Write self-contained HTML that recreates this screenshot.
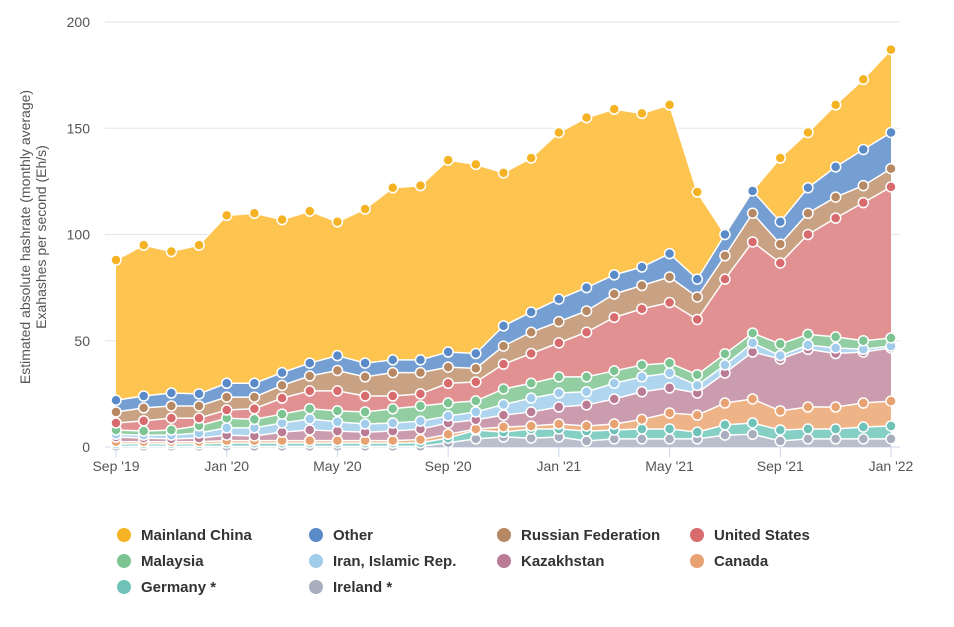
<!DOCTYPE html>
<html><head><meta charset="utf-8"><style>
body{margin:0;background:#fff;font-family:"Liberation Sans",sans-serif;}
svg text{font-family:"Liberation Sans",sans-serif;}
</style></head><body>
<svg id="chart" width="954" height="622" xmlns="http://www.w3.org/2000/svg"></svg>
<script>
const months = ["Sep '19","Oct '19","Nov '19","Dec '19","Jan '20","Feb '20","Mar '20","Apr '20","May '20","Jun '20","Jul '20","Aug '20","Sep '20","Oct '20","Nov '20","Dec '20","Jan '21","Feb '21","Mar '21","Apr '21","May '21","Jun '21","Jul '21","Aug '21","Sep '21","Oct '21","Nov '21","Dec '21","Jan '22"];
const xTickIdx = [0,4,8,12,16,20,24,28];
const xTickLabels = ["Sep '19","Jan '20","May '20","Sep '20","Jan '21","May '21","Sep '21","Jan '22"];
const yTicks = [0,50,100,150,200];
const seriesNames = ["Ireland *","Germany *","Canada","Kazakhstan","Iran, Islamic Rep.","Malaysia","United States","Russian Federation","Other","Mainland China"];
const ireland = [0.3,0.3,0.3,0.3,0.3,0.3,0.3,0.3,0.3,0.3,0.3,0.3,2,3.8,4.7,4.2,4.7,2.8,3.8,3.8,3.8,3.8,5.6,6,2.8,3.8,3.8,3.8,3.8];
const germany = [1.2,1.2,1.2,1.2,1.5,1.5,1.5,1.5,1.5,1.5,1.5,1.7,2.2,4.2,2.3,4.3,3.8,4.7,4.2,4.7,4.7,3.2,4.8,5.3,5.2,4.7,4.7,5.6,6.1];
const canada = [1,1,1,1,1.2,1.2,1.2,1.2,1.2,1.2,1.2,1.5,1.8,0.5,2.4,1.4,2.3,2.4,2.8,4.5,7.5,8,10.3,11.3,9,10.3,10.3,11.3,11.7];
const kazakhstan = [2.2,1.7,1.3,1.7,2.6,2.2,4,5,4.5,4,4.5,4.9,5.3,4.3,5.6,6.6,8,9.9,11.8,13,11.8,10.4,14.1,22.1,24.4,27.2,25.2,24,25];
const iran = [1.3,1.4,1.8,2.4,3.4,3.8,4.3,5.2,4.3,3.8,3.8,3.8,3.3,3.7,5,6.5,6.6,6.2,7.4,7,7,3.6,3.8,4.3,1.6,2,2.6,1.3,0.9];
const malaysia = [2,1.9,2.4,3.4,4.6,4,4.2,4.8,5.2,5.7,6.7,7.1,6.1,5.2,7.3,7,7.6,7,5.8,5.6,4.7,5,5.2,4.6,5.5,5,5.2,4,3.8];
const unitedStates = [3.3,4.8,5.6,3.6,3.8,5,7.5,8.4,9.4,7.5,6,5.7,9.3,8.9,11.7,14,16,21,25.2,26.4,28.5,26,35.2,42.9,38.1,47,55.9,65,71.1];
const russia = [5.2,6.1,5.7,5.7,6.1,5.5,6,7,9.6,9,11,10,7.6,6.4,8.5,10,10,10,11,11,12,10.6,11,13.5,8.9,10,9.9,8,8.6];
const other = [5.5,5.6,6.1,5.7,6.5,6.5,6,6.1,7,6.5,6,6,7.1,7,9.5,9.5,10.6,11,9,8.7,11,8.4,10,10.5,10.5,12,14.2,17,17];
const china = [66,71,66.6,70,79,80,72,71.5,63,72.5,81,82,90.3,89,72,72.5,78.4,80,78,72.3,70,41,null,null,30,26,29.2,33,39];

const fills = ["#b9bfcc","#86cfc5","#eeb387","#cb9cae","#afd5ef","#93ceA3","#e19191","#c9a284","#759fd2","#fdc44f"];
const marks = ["#a8aebd","#6ec2b8","#e8a272","#b97c94","#a2cceb","#7cc491","#d76b6d","#b68964","#5a8bc8","#f5b324"];
const data = [ireland,germany,canada,kazakhstan,iran,malaysia,unitedStates,russia,other,china];
const slugs = ["ireland","germany","canada","kazakhstan","iran","malaysia","united-states","russia","other","china"];

const X0=116,X1=891,Y0=447,Y1=22;
const xs = i => X0 + i*(X1-X0)/(months.length-1);
const ys = v => Y0 - v*(Y0-Y1)/200;
const NS="http://www.w3.org/2000/svg";
const svg=document.getElementById('chart');
function mk(tag,attrs,parent){const e=document.createElementNS(NS,tag);for(const k in attrs)e.setAttribute(k,attrs[k]);(parent||svg).appendChild(e);return e;}

// grid
yTicks.forEach(t=>{
  const g=mk('line',{x1:105,x2:900,y1:ys(t),y2:ys(t),stroke:t===0?'#ccd6eb':'#e6e6e6','stroke-width':1});
  
  
  const tx=mk('text',{x:90,y:ys(t)+5,'text-anchor':'end','font-size':14,fill:'#555'});
  tx.textContent=t;
  
  
});
// stack
let base=months.map(()=>0);
const tops=[];
data.forEach((s,k)=>{
  const top=base.map((b,i)=>b+(s[i]==null?0:s[i]));
  let d='M'+xs(0)+','+ys(top[0]);
  for(let i=1;i<top.length;i++)d+='L'+xs(i)+','+ys(top[i]);
  for(let i=top.length-1;i>=0;i--)d+='L'+xs(i)+','+ys(base[i]);
  d+='Z';
  const a=mk('path',{d:d,fill:fills[k],stroke:'none'});
  
  
  tops.push({top:top,s:s,k:k});
  base=top;
});
tops.forEach(o=>{
  const pts=o.top.map((v,i)=>xs(i)+','+ys(v)).join(' ');
  const l=mk('polyline',{points:pts,fill:'none',stroke:'#fff','stroke-width':1.5});
  
  
});
tops.forEach(o=>{
  o.top.forEach((v,i)=>{
    if(o.s[i]==null)return;
    const c=mk('circle',{cx:xs(i),cy:ys(v),r:5,fill:marks[o.k],stroke:'#fff','stroke-width':1.5});
    
    
  });
});
// x ticks
xTickIdx.forEach((idx,j)=>{
  const t=mk('line',{x1:xs(idx),x2:xs(idx),y1:447,y2:457,stroke:'#ccd6eb'});
  
  
  const tx=mk('text',{x:xs(idx),y:471,'text-anchor':'middle','font-size':14,fill:'#555'});
  tx.textContent=xTickLabels[j];
  
  
});
// y title
const yt=mk('text',{transform:'translate(30,237) rotate(-90)','text-anchor':'middle','font-size':14,fill:'#555'});


const t1=mk('tspan',{x:0,y:0},yt);t1.textContent='Estimated absolute hashrate (monthly average)';
const t2=mk('tspan',{x:0,y:16},yt);t2.textContent='Exahashes per second (Eh/s)';
// legend
const legOrder=[9,8,7,6,5,4,3,2,1,0];
const colX=[124,316,504,697];
legOrder.forEach((k,j)=>{
  const r=Math.floor(j/4),c=j%4;
  const g=mk('g',{});
  
  
  mk('circle',{cx:colX[c],cy:535+r*26,r:7,fill:marks[k]},g);
  const tx=mk('text',{x:colX[c]+17,y:540+r*26,'font-size':15,'font-weight':'bold',fill:'#333'},g);
  tx.textContent=seriesNames[k];
});
</script>
</body></html>
